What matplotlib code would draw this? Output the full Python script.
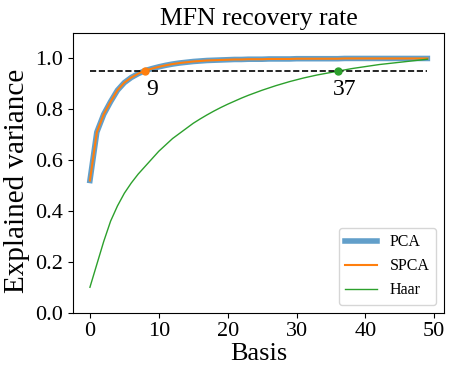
import numpy as np
import matplotlib
matplotlib.use("Agg")
import matplotlib.pyplot as plt

plt.rcParams['font.family'] = ['Liberation Serif', 'DejaVu Serif']

# explained variance per number of basis vectors
basis = np.arange(50)
pca = [0.52, 0.71, 0.78, 0.83, 0.875, 0.905, 0.925, 0.94, 0.952, 0.96,
       0.967, 0.973, 0.978, 0.982, 0.985, 0.988, 0.990, 0.992, 0.993, 0.994,
       0.995, 0.996, 0.996, 0.997, 0.997, 0.997, 0.998, 0.998, 0.998, 0.998,
       0.999, 0.999, 0.999, 0.999, 0.999, 0.999, 0.999, 1.0, 1.0, 1.0,
       1.0, 1.0, 1.0, 1.0, 1.0, 1.0, 1.0, 1.0, 1.0, 1.0]
spca = pca
haar = [0.10, 0.19, 0.28, 0.36, 0.42, 0.47, 0.51, 0.545, 0.575, 0.605,
        0.635, 0.66, 0.685, 0.705, 0.725, 0.745, 0.762, 0.778, 0.793, 0.807,
        0.82, 0.832, 0.844, 0.855, 0.865, 0.875, 0.884, 0.893, 0.901, 0.909,
        0.916, 0.923, 0.929, 0.935, 0.94, 0.945, 0.95, 0.955, 0.96, 0.964,
        0.968, 0.972, 0.976, 0.979, 0.982, 0.985, 0.988, 0.991, 0.994, 0.997]
threshold = 0.95
pca_idx = 8
haar_idx = 36
xticks = [0, 10, 20, 30, 40, 50]

fig, ax = plt.subplots(figsize=(4.51, 3.67), dpi=100)
ax.plot(basis, pca, color='#1f77b4', lw=4, alpha=0.7, label='PCA')
ax.plot(basis, spca, color='#ff7f0e', lw=1.5, label='SPCA')
ax.plot(basis, haar, color='#2ca02c', lw=1, label='Haar')
ax.hlines(threshold, 0, 49, colors='k', linestyles='--', lw=1.2)

ax.plot(pca_idx, spca[pca_idx], 'o', color='#ff7f0e', ms=5)
ax.plot(haar_idx, haar[haar_idx], 'o', color='#2ca02c', ms=5)
ax.text(pca_idx + 1, threshold - 0.03, str(pca_idx + 1), fontsize=17, ha='center', va='top')
ax.text(haar_idx + 1, threshold - 0.03, str(haar_idx + 1), fontsize=17, ha='center', va='top')

ax.set_ylim(0, 1.1)
ax.set_xticks(xticks)
ax.set_title('MFN recovery rate', fontsize=18.5)
ax.set_xlabel('Basis', fontsize=19, labelpad=1)
ax.set_ylabel('Explained variance', fontsize=21)
ax.yaxis.set_label_coords(-0.115, 0.47)
ax.tick_params(labelsize=16)
ax.legend(loc='lower right', fontsize=11.5)

plt.subplots_adjust(left=0.162, right=0.985, top=0.91, bottom=0.148)
plt.savefig('out.png', dpi=100)
